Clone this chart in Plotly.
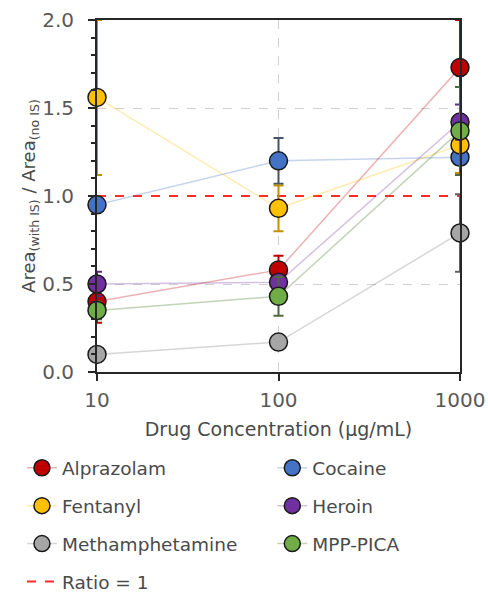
import plotly.graph_objects as go

# Drug concentrations (µg/mL)
concentration = [10, 100, 1000]

# Area ratio (with IS / no IS) per drug, with error bars
alprazolam = [0.40, 0.58, 1.73]
alprazolam_err = [0.12, 0.08, 0.27]
cocaine = [0.95, 1.20, 1.22]
cocaine_err = [0.03, 0.13, 0.10]
fentanyl = [1.56, 0.93, 1.29]
fentanyl_err = [0.44, 0.13, 0.16]
heroin = [0.50, 0.51, 1.42]
heroin_err = [0.07, 0.04, 0.10]
methamphetamine = [0.10, 0.17, 0.79]
methamphetamine_err = [0.02, 0.03, 0.22]
mpp_pica = [0.35, 0.43, 1.37]
mpp_pica_err = [0.05, 0.11, 0.25]

ratio_line = [1.0, 1.0]
ratio_x = [10, 1000]

# name, values, errors, marker colour, connecting-line colour, error-bar colour
series = [
    ("Alprazolam", alprazolam, alprazolam_err, "#c00000", "rgba(192,0,0,0.30)", "#c00000"),
    ("Cocaine", cocaine, cocaine_err, "#4472c4", "rgba(68,114,196,0.30)", "#44546a"),
    ("Fentanyl", fentanyl, fentanyl_err, "#ffc000", "rgba(255,192,0,0.30)", "#bf9000"),
    ("Heroin", heroin, heroin_err, "#7030a0", "rgba(112,48,160,0.30)", "#5a2a80"),
    ("Methamphetamine", methamphetamine, methamphetamine_err, "#a6a6a6", "rgba(120,120,120,0.30)", "#606060"),
    ("MPP-PICA", mpp_pica, mpp_pica_err, "#70ad47", "rgba(84,130,53,0.35)", "#4d6b3a"),
]

FONT = "DejaVu Sans, sans-serif"
TXT = "#595959"
LABEL = "#4a4a4a"

# two-column key below the plot: one legend box per entry (container coords)
col_x = [0.045, 0.558]
row_y = [0.209, 0.145, 0.081, 0.017]
slots = [(0, 0), (0, 1), (1, 0), (1, 1), (2, 0), (2, 1), (3, 0)]
legend_ids = ["legend"] + [f"legend{i}" for i in range(2, 8)]

fig = go.Figure()

# reference line first so the data markers sit on top of it
fig.add_trace(go.Scatter(
    x=ratio_x, y=ratio_line, mode="lines", name="Ratio = 1",
    line=dict(color="#ff2a2a", width=2, dash="dash"),
    legend=legend_ids[6], cliponaxis=False,
))

for i, (name, vals, errs, color, lcolor, ecolor) in enumerate(series):
    fig.add_trace(go.Scatter(
        x=concentration, y=vals, name=name, mode="lines+markers",
        line=dict(color=lcolor, width=1.5),
        marker=dict(size=18, color=color, line=dict(color="#1a1a1a", width=1.5)),
        error_y=dict(type="data", array=errs, color=ecolor, thickness=2, width=5),
        legend=legend_ids[i], cliponaxis=False,
    ))

legends = {}
for key, (r, c) in zip(legend_ids, slots):
    legends[key] = dict(
        orientation="h", xanchor="left", yanchor="middle",
        xref="container", yref="container", x=col_x[c], y=row_y[r],
        font=dict(family=FONT, size=18.5, color=LABEL),
        bgcolor="rgba(0,0,0,0)", itemsizing="trace", visible=True,
    )

fig.update_layout(
    width=488, height=592,
    margin=dict(l=97, r=28, t=20, b=220, autoexpand=False),
    paper_bgcolor="white", plot_bgcolor="white",
    font=dict(family=FONT, color=TXT),
    showlegend=True,
    **legends,
    xaxis=dict(
        type="log", range=[1, 3],
        tickvals=[10, 100, 1000], ticktext=["10", "100", "1000"],
        ticks="outside", ticklen=7, tickwidth=2, tickcolor="#262626",
        showline=True, linecolor="#262626", linewidth=2, mirror=True,
        showgrid=True, gridcolor="#d0d0d0", griddash="dash", gridwidth=1,
        tickfont=dict(size=20, color=TXT), ticklabelstandoff=2,
        title=dict(text="Drug Concentration (µg/mL)", font=dict(size=19, color=LABEL), standoff=12),
        zeroline=False,
    ),
    yaxis=dict(
        range=[0, 2.0], dtick=0.5, tickformat=".1f",
        ticks="outside", ticklen=7, tickwidth=2, tickcolor="#262626",
        minor=dict(dtick=0.1, ticks="outside", ticklen=4, tickwidth=1.5, tickcolor="#262626", showgrid=False),
        showline=True, linecolor="#262626", linewidth=2, mirror=True,
        showgrid=True, gridcolor="#d0d0d0", griddash="dash", gridwidth=1,
        tickfont=dict(size=20, color=TXT), ticklabelstandoff=10,
        title=dict(text="Area<sub>(with IS)</sub> / Area<sub>(no IS)</sub>",
                   font=dict(size=18, color=LABEL), standoff=2),
        zeroline=False,
    ),
)

fig.write_html("out.html")
